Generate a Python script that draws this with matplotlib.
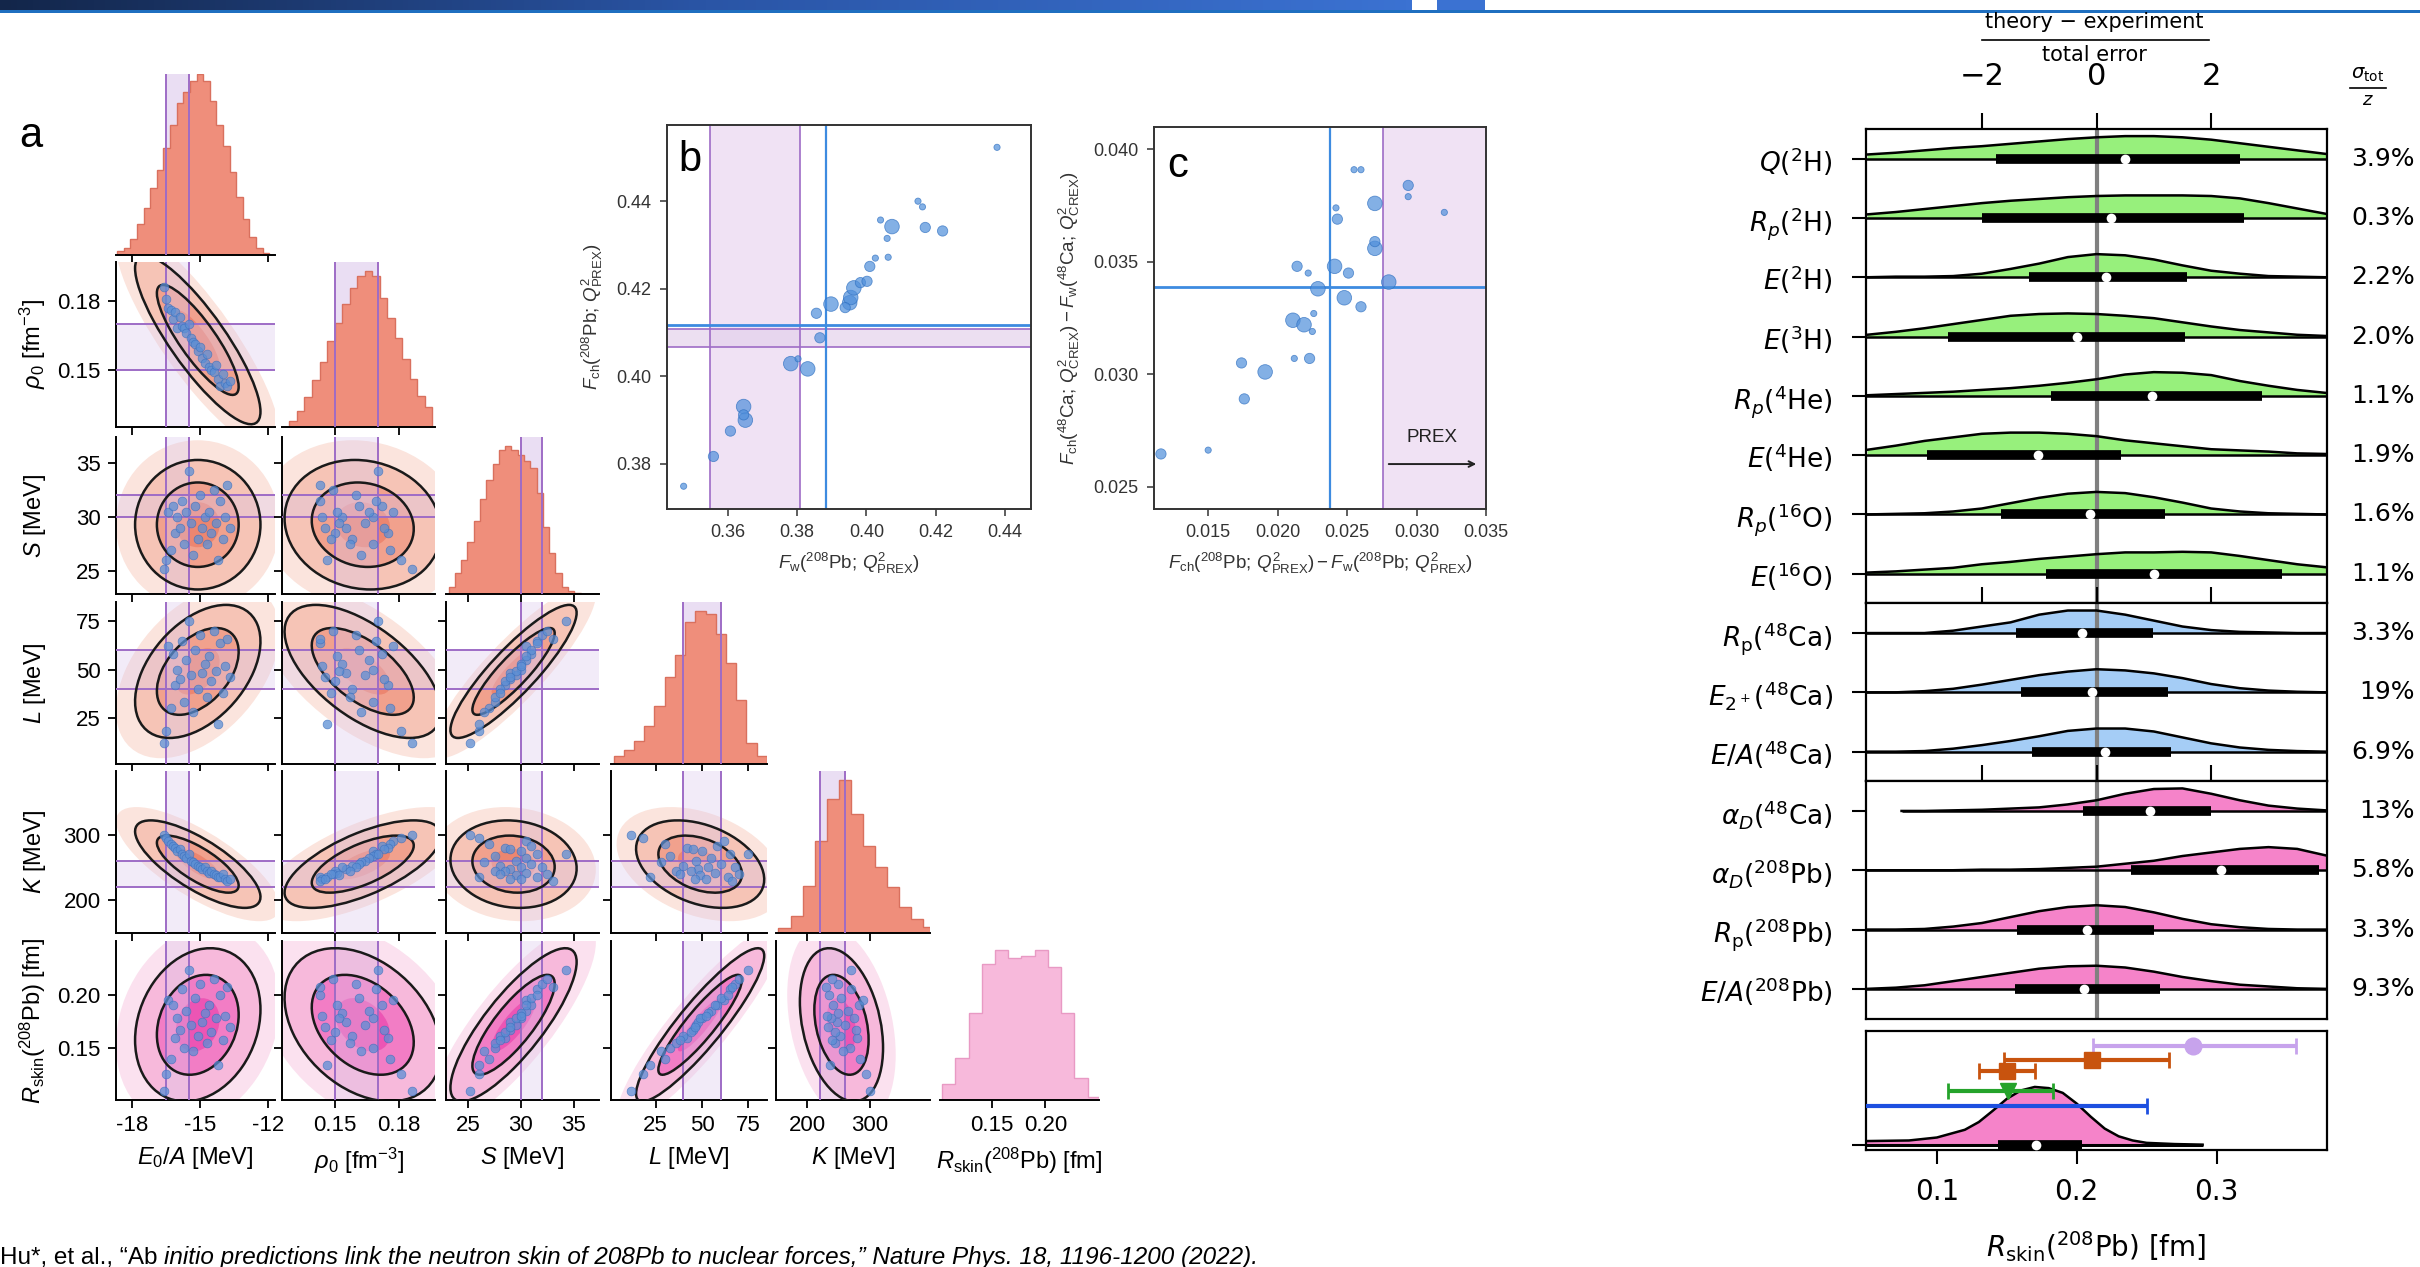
import numpy as np
import matplotlib
matplotlib.use("Agg")
import matplotlib.pyplot as plt
from matplotlib import font_manager
from matplotlib.patches import Ellipse
from matplotlib.colors import LinearSegmentedColormap
from matplotlib.ticker import FormatStrFormatter
import matplotlib.transforms as mtransforms

plt.rcParams['font.family'] = ['Liberation Sans', 'DejaVu Sans']
plt.rcParams['mathtext.fontset'] = 'custom'
plt.rcParams['mathtext.rm'] = 'Liberation Sans'
plt.rcParams['mathtext.it'] = 'Liberation Sans:italic'
plt.rcParams['mathtext.bf'] = 'Liberation Sans:bold'
plt.rcParams['axes.linewidth'] = 1.4

# ---------------- data: panel a (corner plot) ----------------
par_labels = [r'$E_0/A$ [MeV]', r'$\rho_0$ [fm$^{-3}$]', r'$S$ [MeV]', r'$L$ [MeV]',
              r'$K$ [MeV]', r'$R_\mathrm{skin}(^{208}\mathrm{Pb})$ [fm]']
par_lims = [(-18.7, -11.7), (0.125, 0.197), (22.9, 37.4), (1, 85), (150, 397), (0.102, 0.250)]
par_ticks = [[-18, -15, -12], [0.15, 0.18], [25, 30, 35], [25, 50, 75], [200, 300], [0.15, 0.20]]
par_fmt = ['%d', '%.2f', '%d', '%d', '%d', '%.2f']
exp_band = [(-16.5, -15.5), (0.15, 0.17), (30, 32), (40, 60), (220, 260), None]

hist_start = [-18.65, 0.1285, 23.14, 2.4, 154, 0.104]
hist_width = [0.2913, 0.00354, 0.596, 5.5, 19.3, 0.0123]
hist_counts = [
    [0.02, 0.04, 0.09, 0.17, 0.26, 0.37, 0.47, 0.59, 0.72, 0.84, 0.90, 0.96, 1.0, 0.96, 0.85,
     0.72, 0.60, 0.46, 0.32, 0.20, 0.10, 0.04, 0.01],
    [0.04, 0.10, 0.19, 0.30, 0.42, 0.55, 0.67, 0.79, 0.89, 0.97, 1.0, 0.97, 0.83, 0.70, 0.57,
     0.44, 0.31, 0.20, 0.13],
    [0.05, 0.14, 0.23, 0.35, 0.49, 0.64, 0.77, 0.88, 0.97, 1.0, 0.97, 0.94, 0.90, 0.85, 0.68,
     0.45, 0.28, 0.14, 0.05, 0.02, 0.01],
    [0.05, 0.09, 0.15, 0.25, 0.38, 0.57, 0.71, 0.93, 1.0, 0.98, 0.85, 0.66, 0.42, 0.14, 0.05],
    [0.03, 0.11, 0.31, 0.60, 0.88, 1.0, 0.78, 0.57, 0.43, 0.30, 0.17, 0.09, 0.04],
    [0.11, 0.28, 0.58, 0.91, 1.0, 0.95, 0.96, 1.0, 0.89, 0.58, 0.15, 0.02],
]

# posterior summary used for the 2D credible regions
post_mean = [-15.1, 0.163, 29.3, 49, 255, 0.172]
post_sd = [1.2, 0.016, 2.6, 15, 29, 0.031]
post_corr = [
    [1.00, -0.85, 0.00, 0.45, -0.75, 0.20],
    [-0.85, 1.00, -0.10, -0.60, 0.65, -0.35],
    [0.00, -0.10, 1.00, 0.88, -0.10, 0.82],
    [0.45, -0.60, 0.88, 1.00, -0.35, 0.90],
    [-0.75, 0.65, -0.10, -0.35, 1.00, -0.30],
    [0.20, -0.35, 0.82, 0.90, -0.30, 1.00],
]

# the individual interactions (blue dots)
int_E0 = [-16.6, -16.5, -16.4, -16.3, -16.2, -16.1, -16.0, -15.9, -15.8, -15.7, -15.6, -15.5, -15.4, -15.3, -15.2,
          -15.1, -15.0, -14.9, -14.8, -14.7, -14.6, -14.5, -14.4, -14.3, -14.2, -14.1, -14.0, -13.9, -13.8, -13.7]
int_rho0 = [0.186, 0.181, 0.177, 0.176, 0.172, 0.175, 0.168, 0.173, 0.169, 0.168, 0.166, 0.170, 0.164, 0.162, 0.161,
            0.158, 0.160, 0.155, 0.153, 0.157, 0.151, 0.150, 0.149, 0.152, 0.146, 0.143, 0.148, 0.144, 0.143, 0.145]
int_S = [25.2, 26.0, 30.5, 27.0, 31.0, 28.5, 30.0, 29.0, 31.5, 27.5, 30.5, 34.3, 29.5, 26.5, 31.0,
         28.0, 32.0, 29.0, 30.0, 27.5, 30.5, 28.5, 32.5, 29.5, 26.0, 31.5, 28.0, 30.0, 33.0, 29.0]
int_L = [12, 18, 62, 30, 58, 42, 50, 45, 65, 33, 55, 75, 47, 28, 60,
         40, 68, 48, 53, 36, 57, 44, 70, 49, 22, 64, 38, 52, 66, 46]
int_K = [300, 295, 290, 285, 283, 280, 275, 278, 270, 268, 265, 270, 260, 258, 255,
         252, 250, 248, 250, 245, 242, 244, 240, 238, 236, 235, 240, 232, 230, 233]
int_Rskin = [0.110, 0.126, 0.195, 0.140, 0.190, 0.160, 0.178, 0.167, 0.205, 0.150, 0.185, 0.223, 0.172, 0.148, 0.197,
             0.162, 0.210, 0.175, 0.183, 0.155, 0.190, 0.165, 0.215, 0.178, 0.135, 0.200, 0.158, 0.180, 0.207, 0.170]

# ---------------- data: panel b ----------------
b_fw = [0.3473, 0.3559, 0.3608, 0.3646, 0.3651, 0.3646, 0.3782, 0.3803, 0.3831, 0.3866, 0.3856, 0.3898, 0.3952,
        0.3955, 0.3964, 0.3983, 0.4002, 0.4010, 0.4026, 0.4063, 0.4060, 0.4041, 0.4074, 0.4149, 0.4162, 0.4170,
        0.4220, 0.4377, 0.3939]
b_fch = [0.3749, 0.3817, 0.3875, 0.3931, 0.3900, 0.3912, 0.4029, 0.4040, 0.4017, 0.4088, 0.4144, 0.4165, 0.4168,
         0.4180, 0.4202, 0.4214, 0.4217, 0.4251, 0.4270, 0.4272, 0.4315, 0.4357, 0.4342, 0.4400, 0.4387, 0.4340,
         0.4332, 0.4523, 0.4157]
b_weight = [1, 2, 2, 3, 3, 2, 3, 1, 3, 2, 2, 3, 3, 3, 3, 2, 2, 2, 1, 1, 1, 1, 3, 1, 1, 2, 2, 1, 2]
b_prex_fw = (0.355, 0.381)
b_prex_fch = (0.4066, 0.4108)
b_model_fw = 0.3883
b_model_fch = 0.4118

# ---------------- data: panel c ----------------
c_pb = [0.0116, 0.0150, 0.0174, 0.0176, 0.0191, 0.0212, 0.0223, 0.0211, 0.0219, 0.0225, 0.0226, 0.0214, 0.0222,
        0.0229, 0.0241, 0.0248, 0.0251, 0.0260, 0.0243, 0.0242, 0.0255, 0.0260, 0.0270, 0.0270, 0.0270, 0.0280,
        0.0294, 0.0294, 0.0320]
c_ca = [0.02645, 0.02662, 0.0305, 0.0289, 0.0301, 0.0307, 0.0307, 0.0324, 0.0322, 0.0319, 0.0327, 0.0348, 0.0345,
        0.0338, 0.0348, 0.0334, 0.0345, 0.0330, 0.0369, 0.0374, 0.0391, 0.0391, 0.0376, 0.0356, 0.0359, 0.0341,
        0.0384, 0.0379, 0.0372]
c_weight = [2, 1, 2, 2, 3, 1, 2, 3, 3, 1, 1, 2, 1, 3, 3, 3, 2, 2, 2, 1, 1, 1, 3, 3, 2, 3, 2, 1, 1]
c_prex_lo = 0.0276
c_model_pb = 0.0238
c_model_ca = 0.0339

# ---------------- data: right panel (violins) ----------------
obs_labels = [r'$Q(^2\mathrm{H})$', r'$R_p(^2\mathrm{H})$', r'$E(^2\mathrm{H})$', r'$E(^3\mathrm{H})$',
              r'$R_p(^4\mathrm{He})$', r'$E(^4\mathrm{He})$', r'$R_p(^{16}\mathrm{O})$', r'$E(^{16}\mathrm{O})$',
              r'$R_\mathrm{p}(^{48}\mathrm{Ca})$', r'$E_{2^+}(^{48}\mathrm{Ca})$', r'$E/A(^{48}\mathrm{Ca})$',
              r'$\alpha_D(^{48}\mathrm{Ca})$', r'$\alpha_D(^{208}\mathrm{Pb})$', r'$R_\mathrm{p}(^{208}\mathrm{Pb})$',
              r'$E/A(^{208}\mathrm{Pb})$']
obs_sigma = ['3.9%', '0.3%', '2.2%', '2.0%', '1.1%', '1.9%', '1.6%', '1.1%',
             '3.3%', '19%', '6.9%', '13%', '5.8%', '3.3%', '9.3%']
violin_x = [-4.0, -3.5, -3.0, -2.5, -2.0, -1.5, -1.0, -0.5, 0.0, 0.5, 1.0, 1.5, 2.0, 2.5, 3.0, 3.5, 4.0]
violin_h = [
    [0.07, 0.10, 0.14, 0.18, 0.21, 0.25, 0.29, 0.33, 0.36, 0.38, 0.38, 0.36, 0.32, 0.26, 0.20, 0.14, 0.08],
    [0.06, 0.10, 0.15, 0.20, 0.25, 0.29, 0.32, 0.35, 0.37, 0.38, 0.38, 0.38, 0.37, 0.33, 0.25, 0.16, 0.07],
    [0.00, 0.01, 0.01, 0.02, 0.06, 0.14, 0.23, 0.34, 0.39, 0.37, 0.30, 0.20, 0.11, 0.06, 0.02, 0.01, 0.00],
    [0.03, 0.08, 0.14, 0.21, 0.28, 0.35, 0.38, 0.39, 0.38, 0.35, 0.31, 0.24, 0.17, 0.11, 0.07, 0.03, 0.01],
    [0.01, 0.03, 0.05, 0.07, 0.10, 0.13, 0.17, 0.22, 0.28, 0.36, 0.40, 0.39, 0.35, 0.25, 0.17, 0.10, 0.05],
    [0.09, 0.16, 0.24, 0.30, 0.36, 0.38, 0.38, 0.36, 0.32, 0.25, 0.20, 0.15, 0.10, 0.08, 0.06, 0.03, 0.02],
    [0.00, 0.01, 0.02, 0.05, 0.10, 0.19, 0.28, 0.35, 0.38, 0.36, 0.29, 0.20, 0.10, 0.05, 0.02, 0.01, 0.00],
    [0.02, 0.04, 0.07, 0.10, 0.16, 0.20, 0.25, 0.29, 0.33, 0.36, 0.36, 0.37, 0.36, 0.30, 0.23, 0.16, 0.11],
    [0.00, 0.00, 0.00, 0.04, 0.11, 0.18, 0.31, 0.38, 0.38, 0.31, 0.21, 0.11, 0.05, 0.02, 0.01, 0.00, 0.00],
    [0.00, 0.00, 0.02, 0.06, 0.13, 0.21, 0.29, 0.35, 0.39, 0.37, 0.32, 0.24, 0.14, 0.07, 0.03, 0.01, 0.00],
    [0.00, 0.00, 0.01, 0.05, 0.11, 0.18, 0.26, 0.35, 0.39, 0.39, 0.34, 0.24, 0.14, 0.07, 0.03, 0.01, 0.00],
    [0.00, 0.00, 0.00, 0.01, 0.02, 0.04, 0.06, 0.11, 0.18, 0.29, 0.37, 0.38, 0.29, 0.18, 0.09, 0.04, 0.01],
    [0.00, 0.00, 0.00, 0.00, 0.01, 0.01, 0.02, 0.04, 0.06, 0.11, 0.16, 0.24, 0.30, 0.36, 0.39, 0.36, 0.25],
    [0.00, 0.00, 0.01, 0.05, 0.11, 0.21, 0.31, 0.38, 0.41, 0.38, 0.29, 0.18, 0.09, 0.04, 0.01, 0.00, 0.00],
    [0.00, 0.02, 0.06, 0.13, 0.20, 0.27, 0.34, 0.38, 0.39, 0.36, 0.29, 0.20, 0.13, 0.07, 0.04, 0.01, 0.00],
]
violin_start = [-4.02] * 11 + [-3.4] + [-4.02] * 3
box_lo = [-1.75, -2.0, -1.17, -2.59, -0.80, -2.96, -1.67, -0.88, -1.41, -1.31, -1.12, -0.24, 0.60, -1.39, -1.43]
box_hi = [2.50, 2.57, 1.58, 1.54, 2.89, 0.42, 1.20, 3.23, 0.98, 1.25, 1.30, 2.00, 3.88, 1.00, 1.10]
box_med = [0.50, 0.26, 0.16, -0.34, 0.96, -1.02, -0.12, 1.00, -0.26, -0.08, 0.14, 0.94, 2.18, -0.16, -0.22]
group_rows = [(0, 8), (8, 11), (11, 15)]
group_colors = ['#97F07C', '#A5CDF6', '#F583C9']

# bottom panel: predicted R_skin and experiments
rskin_x = [0.049, 0.08, 0.10, 0.12, 0.13, 0.14, 0.15, 0.16, 0.17, 0.18, 0.19, 0.20, 0.21, 0.22, 0.23,
           0.24, 0.25, 0.27, 0.29]
rskin_h = [0.03, 0.035, 0.06, 0.125, 0.19, 0.285, 0.385, 0.455, 0.485, 0.475, 0.435, 0.345, 0.235, 0.135,
           0.07, 0.035, 0.015, 0.005, 0.0]
rskin_box = (0.1435, 0.2036, 0.171)
exp_val = [0.283, 0.211, 0.150, 0.151, 0.145]
exp_lo = [0.212, 0.148, 0.130, 0.108, 0.040]
exp_hi = [0.357, 0.266, 0.170, 0.183, 0.250]
exp_row = [0.87, 0.755, 0.66, 0.50, 0.37]
exp_marker = ['o', 's', 's', 'v', 'none']
exp_color = ['#C7A3EC', '#C8530E', '#C8530E', '#25A32B', '#1D4FE0']

cite_plain = 'Hu*, et al., \u201cAb'
cite_italic = ('initio predictions link the neutron skin of 208Pb to nuclear forces,\u201d '
               'Nature Phys. 18, 1196-1200 (2022).')

# ---------------- figure ----------------
W, H = 2420, 1267
fig = plt.figure(figsize=(W / 100, H / 100), dpi=100)


def box(x0, y0, x1, y1):
    return [x0 / W, 1 - y1 / H, (x1 - x0) / W, (y1 - y0) / H]


deco = fig.add_axes([0, 0, 1, 1])
deco.set_axis_off()
grad = LinearSegmentedColormap.from_list('bar', ['#13264A', '#2A55A6', '#3B72D2'])
deco.imshow(np.linspace(0, 1, 256)[None, :], extent=[0, 1412, 10, 0], cmap=grad, aspect='auto')
deco.fill_between([1437, 1485], 0, 10, color='#3B72D2', lw=0)
deco.fill_between([0, W], 10, 13, color='#1F6FC0', lw=0)
deco.set_xlim(0, W)
deco.set_ylim(H, 0)

# citation line, scaled so it runs to the same right end as in the slide
try:
    font_manager.findfont('Liberation Sans Narrow', fallback_to_default=False)
    cite_family = 'Liberation Sans Narrow'
except ValueError:
    cite_family = 'Liberation Sans'
cite_x0, cite_x1, cite_y = 0, 1253, 1264
fs = 18
t1 = deco.text(cite_x0, cite_y, cite_plain, fontsize=fs, va='baseline', family=cite_family)
t2 = deco.text(0, cite_y, cite_italic, fontsize=fs, style='italic', va='baseline', family=cite_family)
inv = deco.transData.inverted()
for _ in range(2):
    fig.canvas.draw()
    x_mid = inv.transform((t1.get_window_extent().x1, 0))[0] + 6
    t2.set_x(x_mid)
    fig.canvas.draw()
    x_right = inv.transform((t2.get_window_extent().x1, 0))[0]
    fs = fs * (cite_x1 - cite_x0) / (x_right - cite_x0)
    t1.set_fontsize(fs)
    t2.set_fontsize(fs)
fig.canvas.draw()
t2.set_x(inv.transform((t1.get_window_extent().x1, 0))[0] + 6)

# ---------------- panel a ----------------
col_px = [(116, 275), (282, 435), (446, 599), (611, 767), (776, 930), (940, 1099)]
row_px = [(74, 255), (262, 427), (437, 594), (602, 764), (771, 933), (941, 1100)]
salmon = ['#FBE4DD', '#F6C4B6', '#F1A18D', '#EC8670']
pinks = ['#FBE1EF', '#F7B9DB', '#F27DC5', '#EC55B4']
band_fill = '#DCC8EC'
band_line = '#9E6CC6'
dot_blue = '#5B8FD5'
interactions = [int_E0, int_rho0, int_S, int_L, int_K, int_Rskin]

fig.text(31 / W, 1 - 136 / H, 'a', fontsize=30, ha='center', va='center')

for i in range(6):
    for j in range(i + 1):
        ax = fig.add_axes(box(col_px[j][0], row_px[i][0], col_px[j][1], row_px[i][1]))
        ax.set_xlim(par_lims[j])
        ax.set_xticks(par_ticks[j])
        ax.xaxis.set_major_formatter(FormatStrFormatter(par_fmt[j]))
        ax.tick_params(direction='out', length=6, width=1.3, labelsize=16, pad=5)
        for s in ['top', 'right']:
            ax.spines[s].set_visible(False)
        if i == j:
            counts = np.array(hist_counts[i])
            edges = hist_start[i] + hist_width[i] * np.arange(len(counts) + 1)
            hcol = pinks[1] if i == 5 else '#EF8E7B'
            ecol = '#E89AC4' if i == 5 else '#D9705E'
            if exp_band[i] is not None:
                ax.axvspan(*exp_band[i], color=band_fill, alpha=0.6, lw=0, zorder=0)
            ax.stairs(counts, edges, fill=True, color=hcol, zorder=1)
            ax.stairs(counts, edges, color=ecol, lw=1.0, zorder=2)
            if exp_band[i] is not None:
                for v in exp_band[i]:
                    ax.axvline(v, color=band_line, lw=1.4, zorder=3)
            ax.set_ylim(0, 1.0 if i == 0 else 1.06)
            ax.set_yticks([])
            ax.spines['left'].set_visible(False)
        else:
            ax.set_ylim(par_lims[i])
            ax.set_yticks(par_ticks[i])
            ax.yaxis.set_major_formatter(FormatStrFormatter(par_fmt[i]))
            shade = pinks if i == 5 else salmon
            sx, sy = post_sd[j], post_sd[i]
            rho = post_corr[i][j]
            cov = np.array([[sx * sx, rho * sx * sy], [rho * sx * sy, sy * sy]])
            vals, vecs = np.linalg.eigh(cov)
            ang = np.degrees(np.arctan2(vecs[1, 1], vecs[0, 1]))
            for r, c in zip([3.0, 2.3, 1.5, 0.8], shade):
                ax.add_patch(Ellipse((post_mean[j], post_mean[i]), 2 * r * np.sqrt(vals[1]),
                                     2 * r * np.sqrt(vals[0]), angle=ang, color=c, lw=0, zorder=1))
            for r in [2.3, 1.5]:
                ax.add_patch(Ellipse((post_mean[j], post_mean[i]), 2 * r * np.sqrt(vals[1]),
                                     2 * r * np.sqrt(vals[0]), angle=ang, fill=False, ec='#1A1A1A',
                                     lw=1.8, zorder=4))
            if exp_band[j] is not None:
                ax.axvspan(*exp_band[j], color=band_fill, alpha=0.35, lw=0, zorder=2)
                for v in exp_band[j]:
                    ax.axvline(v, color=band_line, lw=1.4, zorder=3)
            if exp_band[i] is not None:
                ax.axhspan(*exp_band[i], color=band_fill, alpha=0.35, lw=0, zorder=2)
                for v in exp_band[i]:
                    ax.axhline(v, color=band_line, lw=1.4, zorder=3)
            ax.scatter(interactions[j], interactions[i], s=40, color=dot_blue, alpha=0.75,
                       edgecolors='#3D70BD', linewidths=0.5, zorder=5)
            if j == 0:
                ax.set_ylabel(par_labels[i], fontsize=17)
                ax.yaxis.set_label_coords(-0.43, 0.5)
            else:
                ax.set_yticklabels([])
        if i == 5:
            ax.set_xlabel(par_labels[j], fontsize=17, va='top')
            ax.xaxis.set_label_coords(0.5, -0.285)
        else:
            ax.set_xticklabels([])

# ---------------- panel b ----------------
wsize = {1: 20, 2: 55, 3: 110}
lav = '#F0E2F4'
axb = fig.add_axes(box(667, 125, 1031, 509))
axb.set_xlim(0.3425, 0.4475)
axb.set_ylim(0.3697, 0.4574)
axb.axvspan(*b_prex_fw, color=lav, lw=0, zorder=0)
axb.axhspan(*b_prex_fch, color='#E4D2EC', alpha=0.7, lw=0, zorder=0)
for v in b_prex_fw:
    axb.axvline(v, color=band_line, lw=1.2, zorder=1)
for v in b_prex_fch:
    axb.axhline(v, color=band_line, lw=1.2, zorder=1)
axb.axvline(b_model_fw, color='#3D8BE0', lw=1.6, zorder=1)
axb.axhline(b_model_fch, color='#3D8BE0', lw=2.0, zorder=1)
axb.scatter(b_fw, b_fch, s=[wsize[w] for w in b_weight], color='#4F8FDB', alpha=0.7,
            edgecolors='#2E6FC0', linewidths=0.6, zorder=3)
axb.set_xticks([0.36, 0.38, 0.40, 0.42, 0.44])
axb.set_yticks([0.38, 0.40, 0.42, 0.44])
axb.xaxis.set_major_formatter(FormatStrFormatter('%.2f'))
axb.yaxis.set_major_formatter(FormatStrFormatter('%.2f'))
axb.tick_params(direction='out', length=5, width=1.1, labelsize=13, pad=6, colors='#333333')
axb.set_xlabel(r'$F_\mathrm{w}(^{208}\mathrm{Pb};\,Q^2_\mathrm{PREX})$', fontsize=13.5, color='#333333',
               labelpad=7)
axb.set_ylabel(r'$F_\mathrm{ch}(^{208}\mathrm{Pb};\,Q^2_\mathrm{PREX})$', fontsize=13.5, color='#333333',
               labelpad=8)
axb.text(0.03, 0.96, 'b', transform=axb.transAxes, fontsize=30, va='top', ha='left')
for s in axb.spines.values():
    s.set_color('#333333')

# ---------------- panel c ----------------
axc = fig.add_axes(box(1154, 127, 1486, 509))
axc.set_xlim(0.0111, 0.035)
axc.set_ylim(0.024, 0.041)
axc.axvspan(c_prex_lo, 0.035, color=lav, lw=0, zorder=0)
axc.axvline(c_prex_lo, color=band_line, lw=1.2, zorder=1)
axc.axvline(c_model_pb, color='#3D8BE0', lw=1.6, zorder=1)
axc.axhline(c_model_ca, color='#3D8BE0', lw=2.0, zorder=1)
axc.scatter(c_pb, c_ca, s=[wsize[w] for w in c_weight], color='#4F8FDB', alpha=0.7,
            edgecolors='#2E6FC0', linewidths=0.6, zorder=3)
axc.annotate('', xy=(0.0345, 0.0260), xytext=(0.0278, 0.0260),
             arrowprops=dict(arrowstyle='->', color='#222222', lw=1.4))
axc.text(0.0311, 0.0268, 'PREX', fontsize=13.5, ha='center', va='bottom', color='#222222')
axc.set_xticks([0.015, 0.020, 0.025, 0.030, 0.035])
axc.set_yticks([0.025, 0.030, 0.035, 0.040])
axc.xaxis.set_major_formatter(FormatStrFormatter('%.3f'))
axc.yaxis.set_major_formatter(FormatStrFormatter('%.3f'))
axc.tick_params(direction='out', length=5, width=1.1, labelsize=13, pad=6, colors='#333333')
axc.set_xlabel(r'$F_\mathrm{ch}(^{208}\mathrm{Pb};\,Q^2_\mathrm{PREX}) - F_\mathrm{w}(^{208}\mathrm{Pb};\,Q^2_\mathrm{PREX})$',
               fontsize=13.5, color='#333333', labelpad=7)
axc.set_ylabel(r'$F_\mathrm{ch}(^{48}\mathrm{Ca};\,Q^2_\mathrm{CREX}) - F_\mathrm{w}(^{48}\mathrm{Ca};\,Q^2_\mathrm{CREX})$',
               fontsize=13.5, color='#333333', labelpad=8)
axc.text(0.04, 0.95, 'c', transform=axc.transAxes, fontsize=30, va='top', ha='left')
for s in axc.spines.values():
    s.set_color('#333333')

# ---------------- right panel: violins ----------------
dv = dict(family='DejaVu Sans', math_fontfamily='dejavusans')
row_unit = 59.3
edges_px = [129, 129 + 8 * row_unit, 129 + 11 * row_unit, 129 + 15 * row_unit]
vx = np.array(violin_x)
for g, (a, b) in enumerate(group_rows):
    ax = fig.add_axes(box(1866, edges_px[g], 2327, edges_px[g + 1]))
    nrow = b - a
    ax.set_xlim(-4.02, 4.02)
    ax.set_ylim(-(nrow - 1) - 0.5, 0.5)
    ax.axvline(0, color='#808080', lw=3, zorder=2)
    tr = mtransforms.blended_transform_factory(ax.transAxes, ax.transData)
    for k, r in enumerate(range(a, b)):
        y0 = -k
        hh = np.array(violin_h[r])
        m = vx >= violin_start[r]
        xs = np.concatenate([[violin_start[r]], vx[m]]) if violin_start[r] > -4 else vx[m]
        hs = np.concatenate([[0.0], hh[m]]) if violin_start[r] > -4 else hh[m]
        ax.fill_between(xs, y0, y0 + hs, color=group_colors[g], lw=0, zorder=1)
        ax.plot(xs, y0 + hs, color='k', lw=1.8, zorder=3)
        ax.hlines(y0, violin_start[r], 4.02, color='k', lw=1.8, zorder=3)
        ax.hlines(y0, box_lo[r], box_hi[r], color='k', lw=7, zorder=4, capstyle='butt')
        ax.plot(box_med[r], y0, 'o', color='white', ms=7, mec='none', zorder=5)
        ax.text(1.19, y0, obs_sigma[r], transform=tr, ha='right', va='center', fontsize=18, **dv)
    ax.set_yticks([-k for k in range(nrow)])
    ax.set_yticklabels(obs_labels[a:b], fontsize=19, **dv)
    ax.tick_params(axis='y', length=10, width=1.5, pad=14)
    ax.xaxis.tick_top()
    ax.set_xticks([-2, 0, 2])
    ax.tick_params(axis='x', length=11.5, width=1.5, direction='out')
    if g == 0:
        ax.set_xticklabels([u'\u22122', '0', '2'], fontsize=22, family='DejaVu Sans')
        ax.tick_params(axis='x', pad=16)
    else:
        ax.set_xticklabels([])
    for s in ax.spines.values():
        s.set_linewidth(1.6)

fig.text(2094 / W, 1 - 22 / H, u'theory \u2212 experiment', fontsize=15, ha='center', va='center',
         family='DejaVu Sans')
fig.add_artist(plt.Line2D([1982 / W, 2209 / W], [1 - 40 / H, 1 - 40 / H], color='k', lw=1.2))
fig.text(2094 / W, 1 - 55 / H, 'total error', fontsize=15, ha='center', va='center', family='DejaVu Sans')
fig.text(2368 / W, 1 - 74 / H, r'$\sigma_\mathrm{tot}$', fontsize=14, ha='center', va='center', **dv)
fig.add_artist(plt.Line2D([2350 / W, 2386 / W], [1 - 88 / H, 1 - 88 / H], color='k', lw=1.2))
fig.text(2368 / W, 1 - 100 / H, r'$z$', fontsize=13, ha='center', va='center', **dv)

# bottom: R_skin prediction vs experiments
axr = fig.add_axes(box(1866, 1031, 2327, 1150))
axr.set_xlim(0.0493, 0.379)
axr.set_ylim(0, 1)
base = 0.045
axr.fill_between(rskin_x, base, base + np.array(rskin_h), color=group_colors[2], lw=0, zorder=1)
axr.plot(rskin_x, base + np.array(rskin_h), color='k', lw=1.8, zorder=3)
axr.hlines(base, 0.0493, 0.29, color='k', lw=2.2, zorder=3)
axr.hlines(base, rskin_box[0], rskin_box[1], color='k', lw=7, zorder=4, capstyle='butt')
axr.plot(rskin_box[2], base, 'o', color='white', ms=7, mec='none', zorder=5)
for v, lo, hi, yy, mk, col in zip(exp_val, exp_lo, exp_hi, exp_row, exp_marker, exp_color):
    axr.errorbar(v, yy, xerr=[[v - lo], [hi - v]], fmt=mk, color=col, ms=12, elinewidth=3,
                 capsize=6, capthick=2, zorder=6)
axr.set_yticks([base])
axr.set_yticklabels([])
axr.tick_params(axis='y', length=10, width=1.5)
axr.set_xticks([0.1, 0.2, 0.3])
axr.set_xticklabels(['0.1', '0.2', '0.3'], fontsize=20, family='DejaVu Sans')
axr.tick_params(axis='x', length=10, width=1.5, pad=10)
axr.set_xlabel(r'$R_\mathrm{skin}(^{208}\mathrm{Pb})$ [fm]', fontsize=20, labelpad=17, **dv)
for s in axr.spines.values():
    s.set_linewidth(1.6)

fig.savefig('out.png', dpi=100)
